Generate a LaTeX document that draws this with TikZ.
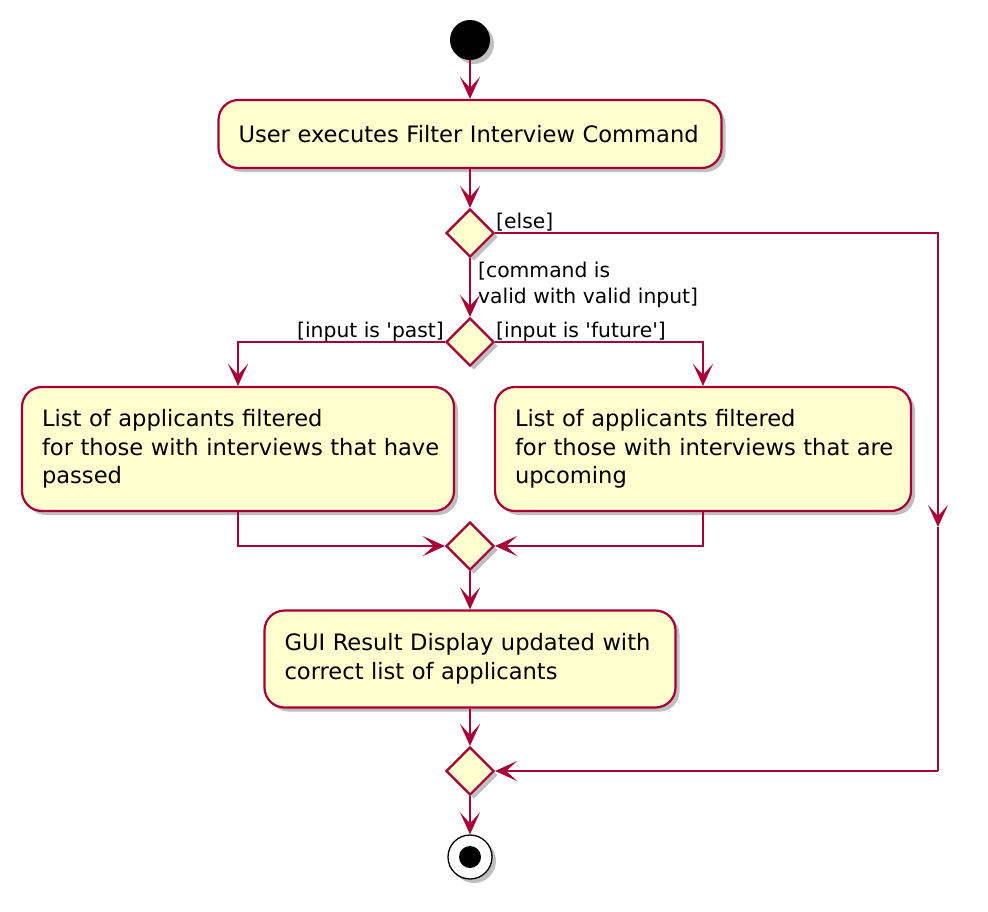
\documentclass[tikz,border=0pt]{standalone}
\usepackage{fontspec}
\setmainfont{DejaVu Sans}
\usetikzlibrary{shapes.geometric,arrows.meta,shadows}
\definecolor{umlred}{RGB}{168,0,54}
\definecolor{umlfill}{RGB}{254,254,206}
\tikzset{
  shade/.style={drop shadow={shadow xshift=4pt,shadow yshift=-4pt,opacity=0.25,fill=black}},
  activity/.style={draw=umlred, fill=umlfill, line width=2.2pt, rounded corners=20pt,
    inner xsep=20pt, inner ysep=0pt, align=left, font=\fontsize{22.6}{28.5}\selectfont, shade},
  decision/.style={diamond, draw=umlred, fill=umlfill, line width=2.2pt, aspect=1,
    minimum width=48pt, minimum height=48pt, inner sep=0pt, shade},
  flow/.style={draw=umlred, line width=2.2pt, -{Stealth[length=22pt,width=20pt,inset=11pt]}},
  plainflow/.style={draw=umlred, line width=2.2pt},
  guard/.style={font=\fontsize{20.3}{26}\selectfont, inner sep=0pt, align=left},
}
\begin{document}
\begin{tikzpicture}[x=1pt,y=-1pt]
\useasboundingbox (0,0) rectangle (988,911);
% start
\node[circle, fill=black, minimum size=40pt, inner sep=0pt, shade] (start) at (470,40) {};
% activities
\node[activity, text width=463pt, minimum width=503pt, minimum height=68pt] (box1) at (470,134)
  {\mbox{User executes Filter Interview Command}};
\node[decision] (d1) at (470,233) {};
\node[decision] (d2) at (470,342) {};
\node[activity, text width=392pt, minimum width=432pt, minimum height=124pt] (boxL) at (238,449)
  {\mbox{List of applicants filtered}\\\mbox{for those with interviews that have}\\\mbox{passed}};
\node[activity, text width=376pt, minimum width=416pt, minimum height=124pt] (boxR) at (703,449)
  {\mbox{List of applicants filtered}\\\mbox{for those with interviews that are}\\\mbox{upcoming}};
\node[decision] (d3) at (470,546) {};
\node[activity, text width=371pt, minimum width=411pt, minimum height=97pt] (box3) at (470,659)
  {\mbox{GUI Result Display updated with}\\\mbox{correct list of applicants}};
\node[decision] (d4) at (470,771) {};
% end
\node[circle, draw=black, line width=1.3pt, fill=white, minimum size=44pt, inner sep=0pt, shade] (stop) at (470,857) {};
\node[circle, fill=black, minimum size=22pt, inner sep=0pt] (stopdot) at (470,857) {};
% route coordinates
\coordinate (elseA) at (938,233);
\coordinate (elseM) at (938,527);
\coordinate (elseB) at (938,771);
% connectors
\draw[flow] (start.south) -- (box1.north);
\draw[flow] (box1.south) -- (d1.north);
\draw[flow] (d1.south) -- (d2.north);
\draw[flow] (d2.west) -| (boxL.north);
\draw[flow] (d2.east) -| (boxR.north);
\draw[flow] (boxL.south) |- (d3.west);
\draw[flow] (boxR.south) |- (d3.east);
\draw[flow] (d3.south) -- (box3.north);
\draw[flow] (box3.south) -- (d4.north);
\draw[flow] (d4.south) -- (stop.north);
\draw[flow] (d1.east) -- (elseA) -- (elseM);
\draw[plainflow] (elseM) -- (elseB);
\draw[flow] (elseB) -- (d4.east);
% guards
\node[guard, anchor=base west] (gElse) at (496,228) {[else]};
\node[guard, anchor=north west] (gCmd) at (478,262) {[command is\\valid with valid input]};
\node[guard, anchor=base east] (gPast) at (444,337) {[input is \textquotesingle past]};
\node[guard, anchor=base west] (gFut) at (496,337) {[input is \textquotesingle future\textquotesingle]};
\end{tikzpicture}
\end{document}
